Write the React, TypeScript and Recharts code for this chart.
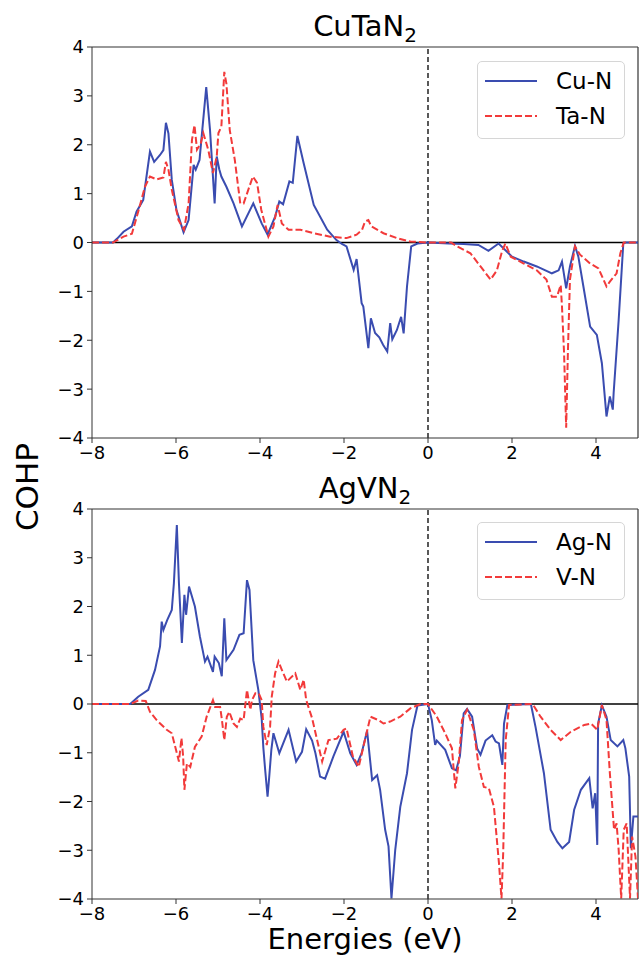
import React from "react";
import { LineChart, Line, XAxis, YAxis, ReferenceLine, Legend } from "recharts";

// [energy (eV), COHP]
const cuN: [number, number][] = [
  [-8, 0], [-7.5, 0], [-7.4, 0.08], [-7.25, 0.22], [-7.05, 0.33], [-6.94, 0.63], [-6.78, 0.87],
  [-6.62, 1.86], [-6.52, 1.65], [-6.38, 1.79], [-6.3, 1.89], [-6.24, 2.45], [-6.18, 2.23], [-6.1, 1.28],
  [-5.99, 0.67], [-5.82, 0.21], [-5.7, 0.46], [-5.58, 1.59], [-5.53, 1.49], [-5.44, 1.69], [-5.28, 3.18],
  [-5.19, 2.3], [-5.08, 0.8], [-5.03, 1.76], [-4.97, 1.5], [-4.92, 1.35], [-4.8, 1.14], [-4.63, 0.8],
  [-4.43, 0.33], [-4.16, 0.8], [-3.96, 0.39], [-3.82, 0.16], [-3.64, 0.53], [-3.54, 0.84], [-3.45, 0.78],
  [-3.3, 1.25], [-3.22, 1.22], [-3.11, 2.18], [-2.96, 1.62], [-2.72, 0.77], [-2.4, 0.26], [-2.18, 0.05],
  [-2.05, -0.03], [-1.94, -0.08], [-1.77, -0.56], [-1.7, -0.34], [-1.58, -1.24], [-1.54, -1.31],
  [-1.42, -2.16], [-1.36, -1.55], [-1.26, -1.85], [-1.16, -1.94], [-1.07, -2.09], [-0.97, -2.23],
  [-0.9, -1.65], [-0.85, -1.98], [-0.74, -1.79], [-0.64, -1.52], [-0.58, -1.86], [-0.5, -0.9],
  [-0.4, -0.08], [-0.25, -0.02], [0, 0], [0.5, -0.02], [0.85, -0.03], [1.2, -0.05], [1.44, -0.17],
  [1.68, -0.02], [2.0, -0.29], [2.28, -0.39], [2.59, -0.49], [2.95, -0.63], [3.11, -0.57], [3.19, -0.39],
  [3.29, -0.94], [3.38, -0.49], [3.5, -0.07], [3.58, -0.29], [3.7, -0.9], [3.86, -1.72], [4.02, -1.89],
  [4.14, -2.47], [4.25, -3.56], [4.33, -3.15], [4.4, -3.42], [4.42, -3.08], [4.54, -1.58], [4.65, -0.02],
  [4.7, 0], [5, 0],
];

const taN: [number, number][] = [
  [-8, 0], [-7.5, 0], [-7.25, 0.12], [-7.05, 0.18], [-6.9, 0.63], [-6.74, 1.14], [-6.62, 1.35],
  [-6.46, 1.29], [-6.3, 1.33], [-6.24, 1.65], [-6.18, 1.49], [-6.1, 1.08], [-5.94, 0.46], [-5.81, 0.26],
  [-5.7, 0.8], [-5.62, 2.1], [-5.56, 2.4], [-5.5, 1.9], [-5.41, 2.03], [-5.35, 2.24], [-5.23, 1.89],
  [-5.12, 1.42], [-5.03, 1.76], [-4.99, 2.24], [-4.92, 2.37], [-4.85, 3.49], [-4.8, 3.25], [-4.72, 2.3],
  [-4.6, 1.69], [-4.47, 0.8], [-4.39, 0.8], [-4.17, 1.35], [-4.07, 1.22], [-3.97, 0.67], [-3.8, 0.12],
  [-3.68, 0.33], [-3.58, 0.77], [-3.48, 0.39], [-3.32, 0.26], [-3.04, 0.26], [-2.72, 0.19], [-2.33, 0.12],
  [-1.94, 0.09], [-1.7, 0.16], [-1.57, 0.26], [-1.5, 0.43], [-1.42, 0.46], [-1.35, 0.33], [-1.06, 0.19],
  [-0.74, 0.09], [-0.42, 0.02], [0, 0], [0.55, 0], [0.69, -0.08], [1.01, -0.22], [1.25, -0.49],
  [1.49, -0.76], [1.64, -0.57], [1.76, -0.19], [1.84, -0.02], [1.97, -0.29], [2.28, -0.43], [2.59, -0.57],
  [2.82, -0.76], [2.95, -1.11], [3.07, -1.11], [3.16, -0.87], [3.19, -1.31], [3.24, -2.27], [3.29, -3.79],
  [3.33, -2.27], [3.38, -0.76], [3.5, -0.08], [3.62, -0.25], [3.86, -0.43], [4.06, -0.53], [4.25, -0.9],
  [4.33, -0.8], [4.49, -0.63], [4.58, -0.22], [4.66, 0], [5, 0],
];

const agN: [number, number][] = [
  [-8, 0], [-7.09, 0], [-6.9, 0.15], [-6.66, 0.29], [-6.5, 0.7], [-6.38, 1.18], [-6.34, 1.69], [-6.3, 1.52],
  [-6.21, 1.72], [-6.1, 1.93], [-6.05, 2.48], [-5.98, 3.67], [-5.93, 2.48], [-5.86, 1.25], [-5.8, 2.24],
  [-5.76, 1.83], [-5.69, 2.41], [-5.55, 2.0], [-5.43, 1.38], [-5.31, 0.87], [-5.25, 0.97], [-5.12, 0.66],
  [-5.08, 0.97], [-4.98, 0.84], [-4.91, 0.57], [-4.85, 1.76], [-4.8, 0.9], [-4.63, 1.11], [-4.49, 1.42],
  [-4.39, 1.45], [-4.31, 2.54], [-4.25, 2.34], [-4.16, 0.9], [-4.04, 0.29], [-3.96, -0.3], [-3.92, -0.9],
  [-3.88, -1.32], [-3.82, -1.9], [-3.78, -1.49], [-3.73, -0.94], [-3.68, -0.6], [-3.54, -1.01],
  [-3.32, -0.53], [-3.14, -1.18], [-3.0, -0.98], [-2.9, -0.52], [-2.76, -0.75], [-2.68, -1.01],
  [-2.57, -1.49], [-2.45, -1.53], [-2.25, -1.07], [-2.01, -0.57], [-1.85, -1.01], [-1.7, -1.25],
  [-1.58, -1.01], [-1.45, -0.55], [-1.33, -1.56], [-1.21, -1.46], [-1.14, -1.76], [-1.02, -2.58],
  [-0.94, -2.92], [-0.87, -3.99], [-0.78, -2.99], [-0.66, -2.11], [-0.5, -1.42], [-0.38, -0.53],
  [-0.25, -0.03], [0, 0], [0.09, -0.33], [0.17, -0.84], [0.21, -0.75], [0.41, -0.94], [0.57, -1.32],
  [0.67, -1.36], [0.76, -1.07], [0.85, -0.19], [0.93, -0.1], [1.05, -0.26], [1.17, -0.91], [1.25, -1.04],
  [1.37, -0.75], [1.53, -0.64], [1.61, -0.77], [1.69, -0.81], [1.77, -1.25], [1.81, -0.4], [1.89, -0.02],
  [2.45, 0], [2.56, -0.47], [2.76, -1.42], [2.92, -2.58], [3.08, -2.83], [3.2, -2.96], [3.36, -2.83],
  [3.48, -2.17], [3.64, -1.76], [3.84, -1.52], [3.92, -2.14], [3.98, -1.83], [4.03, -2.89], [4.05, -0.4],
  [4.14, -0.03], [4.25, -0.26], [4.35, -0.74], [4.51, -0.87], [4.65, -0.74], [4.7, -0.91], [4.79, -1.49],
  [4.83, -2.96], [4.89, -2.31], [5, -2.31],
];

const vN: [number, number][] = [
  [-8, 0], [-7.09, 0], [-6.9, 0.07], [-6.72, 0.06], [-6.62, -0.16], [-6.46, -0.33], [-6.22, -0.53],
  [-6.1, -0.6], [-5.98, -1.01], [-5.93, -1.18], [-5.87, -0.7], [-5.83, -1.07], [-5.8, -1.76], [-5.74, -1.22],
  [-5.66, -1.29], [-5.55, -0.88], [-5.39, -0.67], [-5.27, -0.26], [-5.12, 0.08], [-5.07, -0.06],
  [-4.95, -0.06], [-4.91, -0.3], [-4.85, -0.74], [-4.79, -0.26], [-4.73, -0.16], [-4.63, -0.4],
  [-4.55, -0.47], [-4.47, -0.3], [-4.39, -0.33], [-4.31, 0.29], [-4.23, -0.12], [-4.19, 0.08],
  [-4.11, 0.22], [-4.03, 0.22], [-3.96, 0.08], [-3.92, -0.47], [-3.84, -0.84], [-3.76, -0.47],
  [-3.72, 0.15], [-3.64, 0.63], [-3.56, 0.87], [-3.48, 0.7], [-3.36, 0.46], [-3.16, 0.63], [-3.04, 0.29],
  [-2.96, 0.5], [-2.9, 0.08], [-2.76, -0.29], [-2.64, -0.74], [-2.52, -1.18], [-2.37, -0.74],
  [-2.17, -0.71], [-2.01, -0.53], [-1.94, -0.5], [-1.79, -1.07], [-1.65, -1.29], [-1.54, -0.88],
  [-1.37, -0.26], [-1.18, -0.33], [-1.06, -0.4], [-0.9, -0.36], [-0.66, -0.26], [-0.42, -0.09],
  [-0.18, 0], [0, 0], [0.21, -0.26], [0.41, -0.6], [0.57, -0.91], [0.65, -1.73], [0.73, -1.22],
  [0.81, -0.33], [0.93, -0.12], [1.09, -0.53], [1.21, -1.29], [1.33, -1.7], [1.45, -1.73], [1.57, -2.11],
  [1.69, -3.27], [1.75, -3.99], [1.79, -3.06], [1.85, -0.74], [1.93, -0.02], [2.49, 0], [2.68, -0.26],
  [2.92, -0.53], [3.16, -0.74], [3.4, -0.57], [3.72, -0.43], [3.88, -0.4], [4.03, -0.53], [4.14, -0.02],
  [4.25, -0.33], [4.33, -1.42], [4.43, -2.58], [4.49, -2.45], [4.54, -3.0], [4.6, -3.99], [4.66, -2.58],
  [4.73, -2.45], [4.81, -3.99], [4.86, -2.72], [4.94, -3.13], [5, -3.99],
];

const xTicks = [-8, -6, -4, -2, 0, 2, 4];
const yTicks = [-4, -3, -2, -1, 0, 1, 2, 3, 4];

const BLUE = "#3a4cb0";
const RED = "#f23a3a";
const FONT = "'DejaVu Sans', sans-serif";

const toRows = (pts: [number, number][]) => pts.map(([e, v]) => ({ e, v }));
const minus = (v: number) => String(v).replace("-", "\u2212");

function LegendBox({ labels }: { labels: string[] }) {
  return (
    <div
      style={{
        width: 148, height: 78, boxSizing: "border-box", position: "relative",
        border: "1px solid #d6d6d6", borderRadius: 5, background: "rgba(255,255,255,0.85)",
        fontFamily: FONT, fontSize: 23, color: "#000",
      }}
    >
      {labels.map((lab, i) => (
        <div key={lab} style={{ position: "absolute", left: 7, top: 19 + i * 35 - 14, height: 28, display: "flex", alignItems: "center" }}>
          <svg width={52} height={6} style={{ display: "block" }}>
            <line x1={0} y1={3} x2={52} y2={3} stroke={i === 0 ? BLUE : RED} strokeWidth={2}
              strokeDasharray={i === 0 ? undefined : "7 3"} />
          </svg>
          <span style={{ marginLeft: 19, lineHeight: "28px" }}>{lab}</span>
        </div>
      ))}
    </div>
  );
}

function Panel({ top, height, marginTop, marginBottom, a, b, labels, legendTop }: any) {
  return (
    <div style={{ position: "absolute", left: 0, top }}>
      <LineChart width={639} height={height} margin={{ top: marginTop, right: 1, bottom: marginBottom, left: 32 }}>
        <XAxis type="number" dataKey="e" domain={[-8, 5]} ticks={xTicks} allowDataOverflow
          tickFormatter={minus} tickSize={5} tickMargin={3} height={30}
          stroke="#333" tick={{ fill: "#000", fontSize: 18, fontFamily: FONT }} />
        <YAxis type="number" domain={[-4, 4]} ticks={yTicks} allowDataOverflow width={60}
          tickFormatter={minus} tickSize={5} tickMargin={3}
          stroke="#333" tick={{ fill: "#000", fontSize: 18, fontFamily: FONT }} />
        <ReferenceLine y={4} stroke="#333" strokeWidth={1.2} />
        <ReferenceLine x={5} stroke="#333" strokeWidth={1.2} />
        <ReferenceLine y={0} stroke="#000" strokeWidth={1.5} />
        <ReferenceLine x={0} stroke="#000" strokeWidth={1.3} strokeDasharray="5 3" />
        <Line data={toRows(a)} dataKey="v" stroke={BLUE} strokeWidth={2} dot={false} isAnimationActive={false} />
        <Line data={toRows(b)} dataKey="v" stroke={RED} strokeWidth={2} strokeDasharray="7 3" dot={false} isAnimationActive={false} />
        <Legend layout="horizontal" verticalAlign="middle" align="center"
          wrapperStyle={{ top: legendTop, left: 477, width: 148, height: 78 }}
          content={() => <LegendBox labels={labels} />} />
      </LineChart>
    </div>
  );
}

function Title({ text, baseline }: { text: string; baseline: number }) {
  return (
    <div style={{ position: "absolute", left: 92, width: 546, top: baseline - 25, textAlign: "center", fontFamily: FONT, fontSize: 29, lineHeight: "29px" }}>
      {text}
      <sub style={{ fontSize: 20, verticalAlign: "-6px", lineHeight: 0 }}>2</sub>
    </div>
  );
}

export default function App() {
  return (
    <div style={{ position: "absolute", left: 0, top: 0, width: 639, height: 957, background: "#fff", fontFamily: FONT }}>
      <Panel top={0} height={480} marginTop={47} marginBottom={12} a={cuN} b={taN} labels={["Cu-N", "Ta-N"]} legendTop={61} />
      <Panel top={480} height={477} marginTop={29} marginBottom={28} a={agN} b={vN} labels={["Ag-N", "V-N"]} legendTop={42} />
      <Title text="CuTaN" baseline={37} />
      <Title text="AgVN" baseline={499} />
      <div style={{ position: "absolute", left: 27, top: 487, transform: "translate(-50%, -50%) rotate(-90deg)", fontSize: 31, lineHeight: "31px", whiteSpace: "nowrap" }}>
        COHP
      </div>
      <div style={{ position: "absolute", left: 92, width: 546, top: 925, textAlign: "center", fontSize: 29, lineHeight: "29px", whiteSpace: "nowrap" }}>
        Energies (eV)
      </div>
    </div>
  );
}
